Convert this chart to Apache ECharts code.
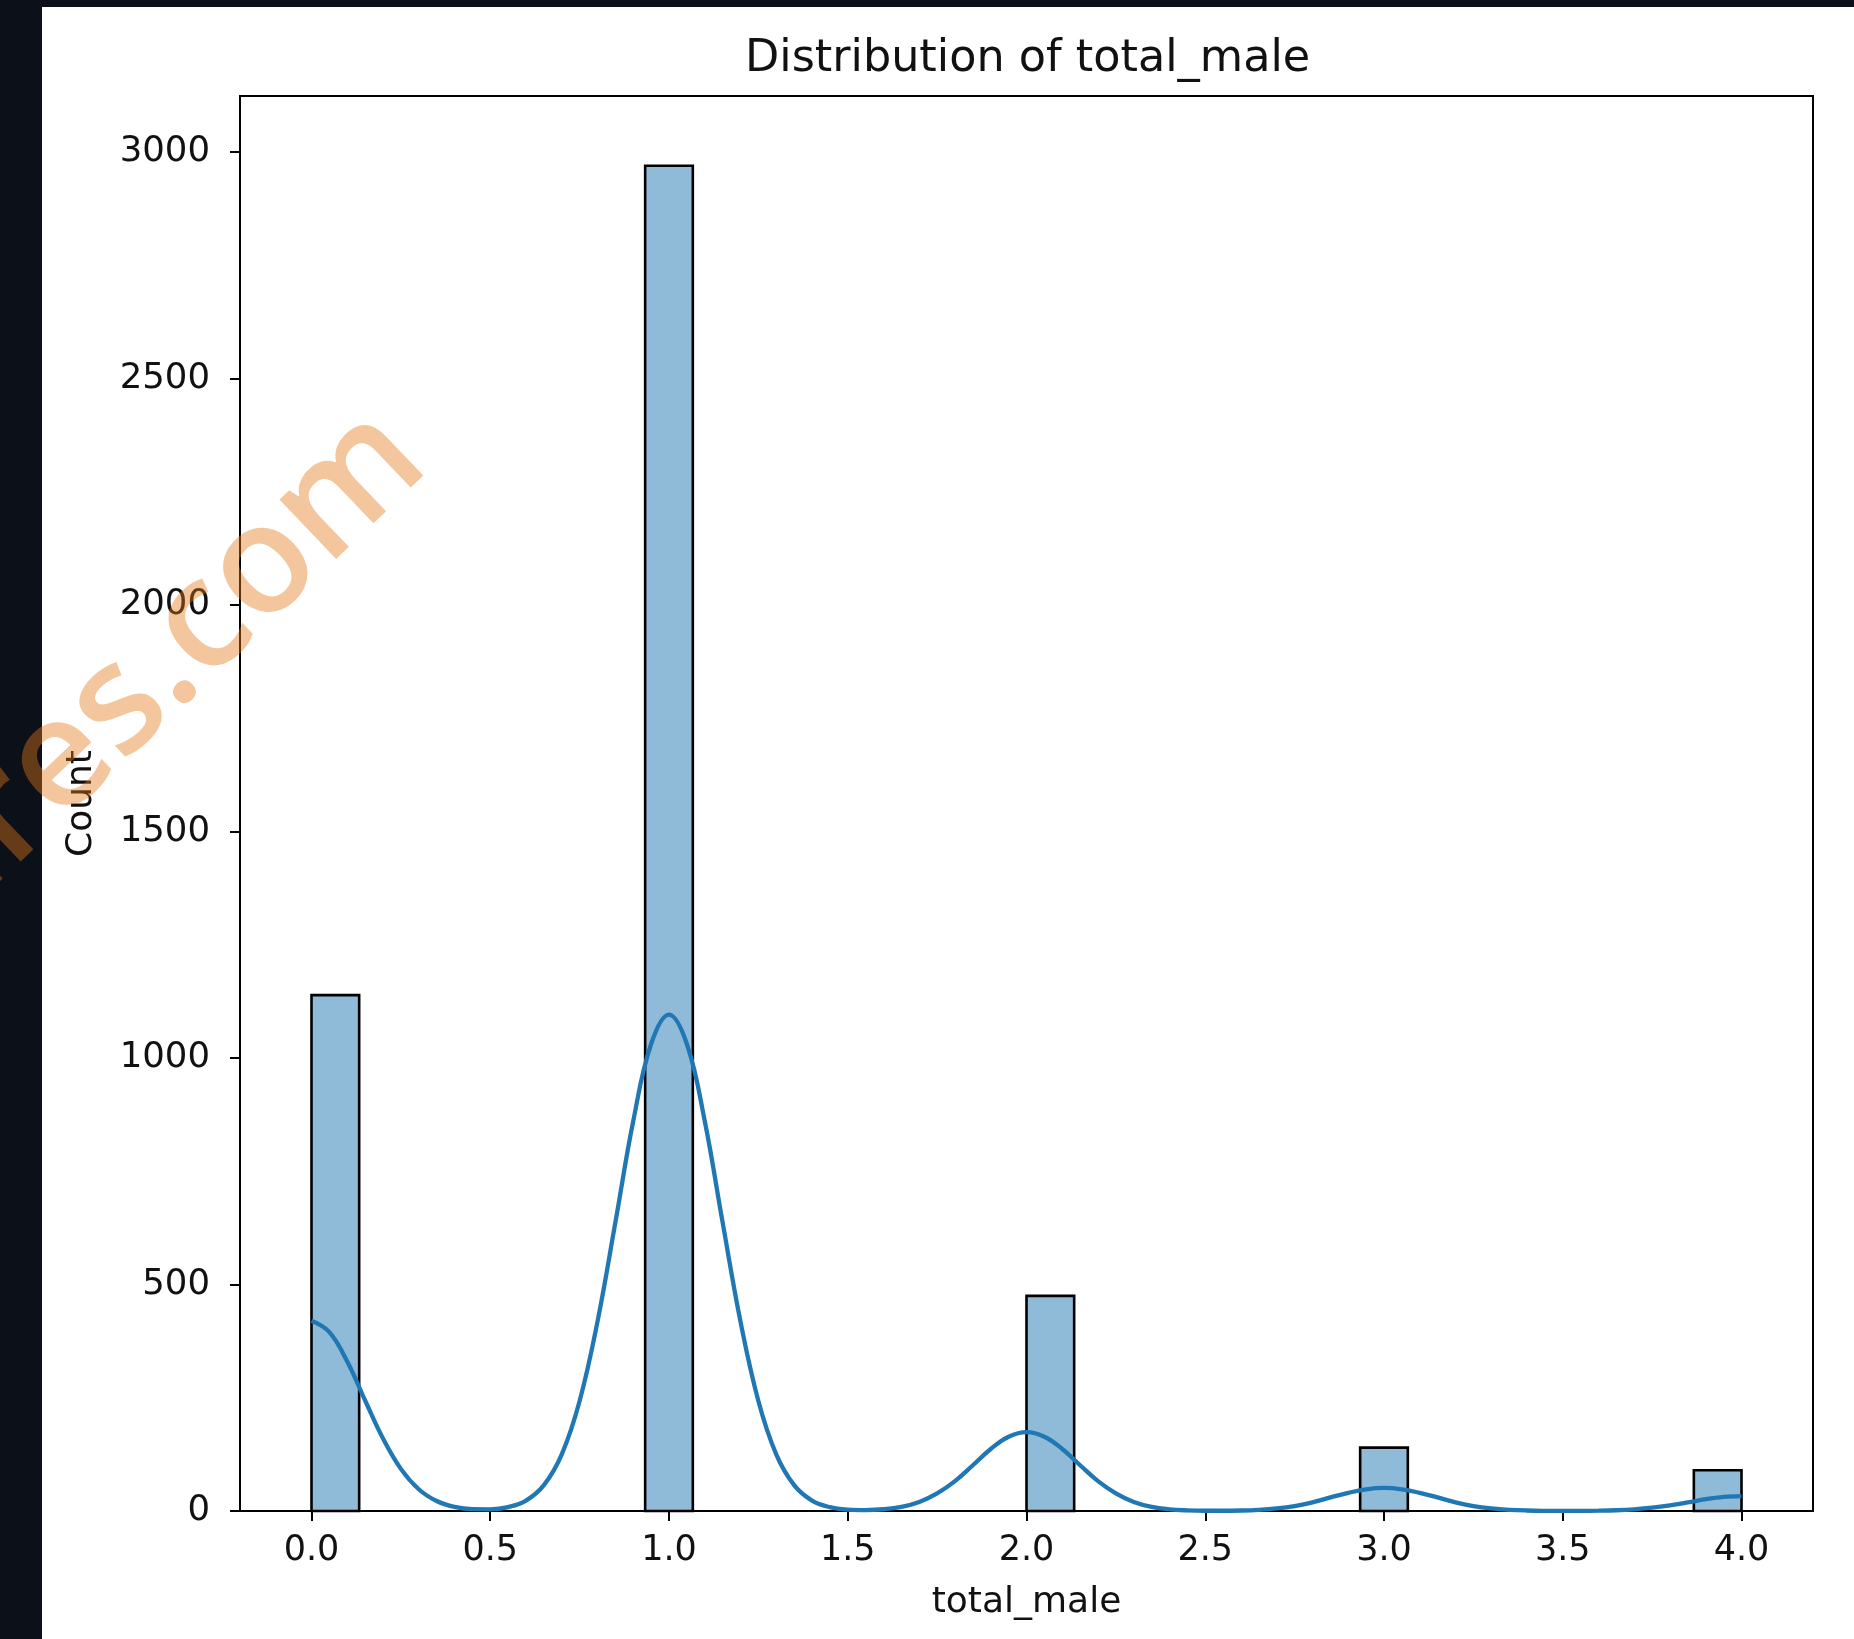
<!DOCTYPE html>
<html>
<head>
<meta charset="utf-8">
<script src="https://cdn.jsdelivr.net/npm/echarts@6/dist/echarts.min.js"></script>
<style>
html,body{margin:0;padding:0;background:#fff;}
#chart{width:1854px;height:1639px;}
</style>
</head>
<body>
<div id="chart"></div>
<script>
// ---- data ----
const titleText = 'Distribution of total_male';
const xName = 'total_male';
const yName = 'Count';
const binWidth = 4 / 30;                     // 30 bins over [0, 4]
const binStarts = [0, 0.9333, 2.0, 2.9333, 3.8667]; // non-empty bins
const binCounts = [1139, 2970, 475, 140, 90];
const xTicks = [0, 0.5, 1, 1.5, 2, 2.5, 3, 3.5, 4];
const yTicks = [0, 500, 1000, 1500, 2000, 2500, 3000];
const kdeCurve = [
[0,420],[0.05,395],[0.1,330],[0.15,244],[0.2,160],[0.25,93],[0.3,48],[0.35,22],[0.4,9],[0.45,4],
[0.5,3.7],[0.55,8.6],[0.6,23],[0.65,57],[0.7,125],[0.75,243],[0.8,418],[0.85,637],[0.9,861],[0.95,1031],
[1.0,1096],[1.05,1031],[1.1,861],[1.15,637],[1.2,418],[1.25,243],[1.3,125],[1.35,57],[1.4,23],[1.45,8.4],
[1.5,3.1],[1.55,2.1],[1.6,3.9],[1.65,9.1],[1.7,20],[1.75,39],[1.8,66],[1.85,101],[1.9,137],[1.95,164],
[2.0,174],[2.05,164],[2.1,137],[2.15,101],[2.2,66],[2.25,39],[2.3,20],[2.35,9.1],[2.4,3.7],[2.45,1.4],
[2.5,0.5],[2.55,0.5],[2.6,1.1],[2.65,2.7],[2.7,5.8],[2.75,11],[2.8,19],[2.85,30],[2.9,40],[2.95,48],
[3.0,51],[3.05,48],[3.1,40],[3.15,30],[3.2,19],[3.25,11],[3.3,5.8],[3.35,2.7],[3.4,1.1],[3.45,0.4],
[3.5,0.2],[3.55,0.3],[3.6,0.7],[3.65,1.7],[3.7,3.8],[3.75,7.3],[3.8,12.5],[3.85,19],[3.9,26],[3.95,31],
[4.0,33]
];
const watermarkText = 'ures.com';

// ---- chart ----
const histData = binStarts.map((s, i) => [s, s + binWidth, binCounts[i]]);
const chart = echarts.init(document.getElementById('chart'), null, {renderer: 'canvas'});
const FONT = '"DejaVu Sans", sans-serif';
const option = {
  animation: false,
  backgroundColor: '#ffffff',
  title: {
    text: titleText,
    left: 740,
    top: 32,
    textStyle: {fontFamily: FONT, fontSize: 44.5, fontWeight: 'normal', color: '#111'}
  },
  grid: {
    left: 240, right: 41, top: 96, bottom: 128,
    show: true, borderColor: '#000', borderWidth: 2, backgroundColor: 'transparent'
  },
  xAxis: {
    type: 'value', min: -0.2, max: 4.2,
    name: xName, nameLocation: 'middle', nameGap: 74,
    nameTextStyle: {fontFamily: FONT, fontSize: 36, color: '#111'},
    axisLine: {show: true, onZero: false, lineStyle: {color: '#000', width: 2}},
    axisTick: {show: true, length: 10, lineStyle: {color: '#000', width: 2}, customValues: xTicks},
    axisLabel: {fontFamily: FONT, fontSize: 35, color: '#111', margin: 22,
      customValues: xTicks, formatter: v => Number(v).toFixed(1)},
    splitLine: {show: false}
  },
  yAxis: {
    type: 'value', min: 0, max: 3124,
    name: yName, nameLocation: 'middle', nameGap: 140,
    nameTextStyle: {fontFamily: FONT, fontSize: 36, color: '#111'},
    axisLine: {show: true, onZero: false, lineStyle: {color: '#000', width: 2}},
    axisTick: {show: true, length: 10, lineStyle: {color: '#000', width: 2}, customValues: yTicks},
    axisLabel: {fontFamily: FONT, fontSize: 35.5, color: '#111', margin: 30, customValues: yTicks,
      formatter: v => String(Math.round(v))},
    splitLine: {show: false}
  },
  series: [
    {
      type: 'custom',
      z: 2,
      data: histData,
      encode: {x: [0, 1], y: 2},
      renderItem: function (params, api) {
        const p0 = api.coord([api.value(0), api.value(2)]);
        const p1 = api.coord([api.value(1), 0]);
        return {
          type: 'rect',
          shape: {x: p0[0], y: p0[1], width: p1[0] - p0[0], height: p1[1] - p0[1]},
          style: {fill: 'rgba(31,119,180,0.5)', stroke: '#000', lineWidth: 2.6}
        };
      }
    },
    {
      type: 'line',
      z: 3,
      data: kdeCurve,
      smooth: 0.4,
      showSymbol: false,
      lineStyle: {color: '#1f77b4', width: 4.3}
    }
  ],
  graphic: [
    {type: 'rect', z: 50, shape: {x: 0, y: 0, width: 42, height: 1639}, style: {fill: '#0c1019'}},
    {type: 'rect', z: 50, shape: {x: 0, y: 0, width: 1854, height: 7}, style: {fill: '#0c1019'}},
    {
      type: 'text', z: 100, x: 402, y: 436, rotation: 0.764,
      style: {
        text: watermarkText,
        font: '600 152px "Open Sans", sans-serif',
        fill: 'rgba(228,119,22,0.42)',
        align: 'right', verticalAlign: 'middle',
        textAlign: 'right', textVerticalAlign: 'middle'
      }
    }
  ]
};
chart.setOption(option);
</script>
</body>
</html>
